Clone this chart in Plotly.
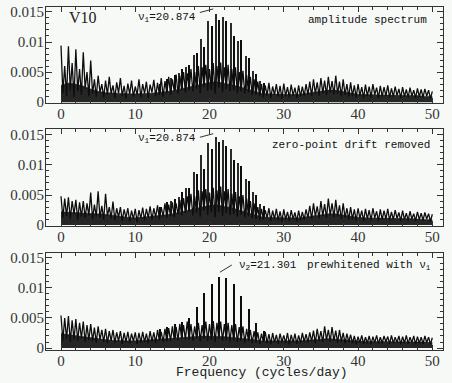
#!/usr/bin/env python3
"""
V10 amplitude spectra - three stacked panels (raw, drift removed, prewhitened)
"""

import plotly.graph_objs as go

# Frequency grid of the noise curves (cycles/day), 0.25 c/d steps, 0..50
NOISE_FREQ = [i * 0.25 for i in range(201)]
# Grid of the dense noise band level, 1 c/d steps
BAND_FREQ = list(range(51))

# Noise curves, amplitude in units of 1e-4
noise_raw = [
    # 0 - 4
    94, 15, 60, 10, 93, 20, 65, 8, 88, 18, 55, 12, 83, 22, 50, 10, 69,
    # 4.25 - 14
    14, 38, 9, 44, 16, 30, 8, 36, 12, 42, 14, 28, 7, 33, 15, 40, 10, 27, 6, 31,
    13, 36, 9, 26, 12, 38, 8, 30, 14, 34, 7, 29, 16, 37, 10, 32, 12, 40, 9, 35,
    # 14.25 - 17
    15, 42, 12, 38, 18, 46, 14, 44, 20, 50, 16, 48,
    # 17.25 - 26
    20, 55, 18, 50, 22, 60, 15, 58, 25, 62, 18, 55, 20, 65, 14, 60, 24, 66,
    16, 58, 22, 62, 18, 55, 20, 58, 15, 50, 18, 52, 14, 45, 16, 42, 12, 38,
    # 26.25 - 33
    12, 34, 10, 30, 8, 28, 11, 32, 7, 26, 12, 30, 9, 27,
    6, 31, 10, 25, 8, 29, 11, 24, 7, 28, 9, 26, 10, 30,
    # 33.25 - 39
    12, 34, 10, 38, 14, 33, 11, 40, 15, 36, 12, 42,
    16, 35, 13, 44, 14, 34, 10, 38, 12, 30, 9, 33,
    # 39.25 - 50
    10, 28, 8, 30, 11, 25, 7, 29, 10, 26, 8, 30, 12, 24, 7, 27, 9, 25, 10, 28, 8, 23,
    9, 26, 11, 22, 7, 25, 9, 21, 8, 24, 10, 20, 7, 23, 9, 21, 8, 22, 10, 20, 6, 18,
]

noise_drift = [
    # 0 - 4
    48, 12, 44, 15, 46, 10, 40, 18, 42, 9, 38, 14, 40, 12, 36, 16, 54,
    # 4.25 - 14
    10, 34, 14, 56, 12, 32, 9, 52, 15, 30, 11, 39, 8, 28, 13, 30, 7, 26, 12, 28,
    6, 24, 10, 27, 5, 25, 11, 29, 8, 27, 12, 31, 9, 28, 13, 33, 10, 30, 14, 36,
    # 14.25 - 17
    12, 34, 15, 38, 13, 36, 18, 42, 16, 45, 20, 48,
    # 17.25 - 26
    22, 52, 16, 48, 20, 58, 14, 56, 24, 60, 17, 54, 21, 62, 13, 58, 22, 64,
    15, 56, 20, 60, 17, 52, 19, 55, 14, 48, 17, 50, 13, 44, 15, 40, 11, 36,
    # 26.25 - 33
    10, 30, 8, 27, 9, 25, 12, 28, 7, 24, 10, 27, 8, 23,
    6, 26, 9, 22, 7, 25, 10, 21, 6, 24, 8, 22, 9, 26,
    # 33.25 - 39
    12, 32, 10, 36, 14, 31, 11, 40, 15, 35, 12, 44,
    16, 36, 13, 42, 14, 33, 10, 36, 12, 28, 9, 30,
    # 39.25 - 50
    10, 26, 8, 28, 11, 24, 7, 27, 10, 25, 8, 28, 12, 23, 7, 26, 9, 24, 10, 27, 8, 22,
    9, 25, 11, 21, 7, 24, 9, 20, 8, 23, 10, 19, 7, 22, 9, 20, 8, 21, 10, 19, 6, 18,
]

noise_prew = [
    # 0 - 4
    54, 12, 50, 15, 53, 10, 46, 14, 48, 12, 42, 16, 44, 10, 38, 13, 40,
    # 4.25 - 14
    12, 34, 9, 36, 14, 30, 10, 32, 8, 28, 12, 30, 9, 26, 11, 28, 7, 25, 10, 27,
    8, 24, 11, 26, 7, 25, 9, 27, 10, 24, 8, 28, 11, 26, 9, 30, 12, 27, 10, 32,
    # 14.25 - 17
    11, 33, 12, 36, 14, 35, 13, 40, 15, 38, 14, 44,
    # 17.25 - 26
    14, 40, 12, 36, 16, 42, 11, 38, 15, 44, 12, 40, 14, 45, 10, 42, 16, 44,
    12, 40, 14, 42, 11, 38, 13, 40, 10, 35, 12, 36, 9, 32, 11, 30, 8, 28,
    # 26.25 - 33
    9, 26, 7, 24, 10, 27, 8, 23, 6, 25, 9, 22, 7, 24,
    10, 21, 8, 25, 6, 22, 9, 24, 7, 21, 8, 25, 10, 23,
    # 33.25 - 39
    9, 26, 11, 29, 8, 32, 12, 28, 10, 36, 13, 30,
    11, 35, 12, 29, 9, 30, 11, 25, 8, 24, 10, 22,
    # 39.25 - 50
    8, 20, 6, 19, 9, 21, 7, 18, 8, 20, 6, 19, 9, 21, 7, 18, 8, 20, 10, 19, 7, 21,
    8, 18, 9, 20, 6, 19, 8, 21, 7, 18, 9, 20, 6, 19, 8, 18, 7, 20, 9, 18, 6, 17,
]

# Top of the solid dark noise band, per 1 c/d (1e-4)
band_raw = [28, 32, 30, 27, 22, 18, 16, 15, 15, 14, 14, 14, 15, 16, 17, 19, 22,
            25, 28, 31, 33, 34, 32, 29, 26, 22, 18, 15, 14, 13, 13, 13, 13, 15,
            17, 19, 20, 20, 18, 15, 13, 13, 12, 12, 12, 12, 11, 11, 11, 10, 10]
band_drift = [22, 22, 21, 20, 20, 19, 18, 16, 14, 13, 12, 13, 14, 15, 17, 19, 22,
              25, 28, 31, 33, 34, 32, 29, 25, 21, 17, 14, 13, 12, 12, 12, 12, 14,
              16, 18, 19, 19, 17, 14, 13, 12, 12, 12, 11, 11, 11, 11, 10, 10, 9]
band_prew = [24, 23, 21, 19, 17, 15, 14, 13, 12, 12, 12, 13, 14, 14, 15, 16, 17,
             18, 19, 20, 20, 20, 19, 18, 17, 15, 14, 12, 12, 12, 11, 11, 12, 13,
             14, 15, 16, 15, 14, 12, 11, 11, 11, 11, 11, 10, 10, 10, 10, 10, 9]

# Alias peaks of nu1 = 20.874 and nu2 = 21.301 (c/d), heights in 1e-4
nu1_alias = [14.874, 15.874, 16.874, 17.874, 18.874, 19.874, 20.874,
             21.874, 22.874, 23.874, 24.874, 25.874, 26.874]
nu2_alias = [13.301, 14.301, 15.301, 16.301, 17.301, 18.301, 19.301, 20.301,
             21.301, 22.301, 23.301, 24.301, 25.301, 26.301, 27.301]

raw_nu1 = [40, 48, 58, 78, 105, 135, 146, 141, 132, 102, 77, 52, 36]
raw_nu2 = [30, 38, 45, 55, 62, 82, 91, 126, 136, 135, 110, 104, 74, 46, 32]

drift_nu1 = [40, 46, 61, 88, 116, 136, 146, 142, 127, 103, 77, 55, 36]
drift_nu2 = [30, 39, 43, 55, 62, 85, 94, 127, 138, 132, 108, 99, 74, 50, 32]

prew_nu2 = [32, 36, 40, 43, 50, 69, 92, 107, 118, 116, 107, 87, 65, 41, 28]

SCALE = 1e-4
INK = '#0d0d0d'
BG = '#f6f9f6'
MONO = 'Liberation Mono, Courier New, monospace'
SERIF = 'Liberation Serif, Times New Roman, serif'

for arr in (noise_raw, noise_drift, noise_prew):
    assert len(arr) == len(NOISE_FREQ), len(arr)
for arr in (band_raw, band_drift, band_prew):
    assert len(arr) == len(BAND_FREQ), len(arr)


def scaled(values):
    return [v * SCALE for v in values]


def add_panel(fig, n, band, noise, peak_sets):
    """Dense noise band, jagged noise curve and alias spikes on axes pair n"""
    xa = 'x' if n == 1 else f'x{n}'
    ya = 'y' if n == 1 else f'y{n}'
    fig.add_trace(go.Scatter(
        x=BAND_FREQ, y=scaled(band), mode='lines', fill='tozeroy',
        fillcolor='#262626', line=dict(color='#262626', width=0.5),
        xaxis=xa, yaxis=ya, showlegend=False, hoverinfo='skip'
    ))
    fig.add_trace(go.Scatter(
        x=NOISE_FREQ, y=scaled(noise), mode='lines',
        line=dict(color=INK, width=1.3), xaxis=xa, yaxis=ya,
        showlegend=False, hoverinfo='skip'
    ))
    for freqs, heights, color in peak_sets:
        fig.add_trace(go.Bar(
            x=freqs, y=scaled(heights), width=0.17,
            marker=dict(color=color, line=dict(width=0)),
            xaxis=xa, yaxis=ya, showlegend=False, hoverinfo='skip'
        ))


fig = go.Figure()
add_panel(fig, 1, band_raw, noise_raw,
          [(nu1_alias, raw_nu1, '#2a2a2a'), (nu2_alias, raw_nu2, '#0d0d0d')])
add_panel(fig, 2, band_drift, noise_drift,
          [(nu1_alias, drift_nu1, '#2a2a2a'), (nu2_alias, drift_nu2, '#0d0d0d')])
add_panel(fig, 3, band_prew, noise_prew, [(nu2_alias, prew_nu2, '#0d0d0d')])

xaxis_style = dict(
    range=[-2.02, 51.44], showline=True, mirror='ticks', linecolor='#333', linewidth=1,
    ticks='inside', ticklen=5, tickcolor='#333', tickvals=[0, 10, 20, 30, 40, 50],
    minor=dict(dtick=2, ticklen=3, ticks='inside', tickcolor='#333'),
    showgrid=False, zeroline=False, ticklabelstandoff=-3,
    tickfont=dict(family=SERIF, size=15, color='#333'),
)
yaxis_style = dict(
    showline=True, mirror='ticks', linecolor='#333', linewidth=1,
    ticks='inside', ticklen=6, tickcolor='#333',
    tickvals=[0, 0.005, 0.01, 0.015], ticktext=['0', '0.005', '0.01', '0.015'],
    minor=dict(dtick=0.001, ticklen=3, ticks='inside', tickcolor='#333'),
    showgrid=False, zeroline=False, ticklabelstandoff=-2,
    tickfont=dict(family=SERIF, size=15, color='#333'),
)

fig.update_layout(
    width=452, height=383,
    margin=dict(l=46, r=9, t=4, b=33),
    paper_bgcolor=BG, plot_bgcolor=BG,
    barmode='overlay', bargap=0,
    xaxis=dict(xaxis_style, anchor='y'),
    xaxis2=dict(xaxis_style, anchor='y2'),
    xaxis3=dict(xaxis_style, anchor='y3'),
    yaxis=dict(yaxis_style, domain=[0.7197, 1.0], range=[-0.000165, 0.01582], anchor='x'),
    yaxis2=dict(yaxis_style, domain=[0.3613, 0.6445], range=[-0.000165, 0.01599], anchor='x2'),
    yaxis3=dict(yaxis_style, domain=[0.0, 0.2832], range=[-0.00033, 0.01582], anchor='x3'),
)

# Panel labels
label_font = dict(family=MONO, size=11, color='#111')
notes = [
    ('x', 'y', 3.0, 0.0140, 'V10', 'center', dict(family=SERIF, size=16, color='#222')),
    ('x', 'y', 18.4, 0.0141, 'ν<sub>1</sub>=20.874', 'right', label_font),
    ('x', 'y', 49.6, 0.0137, 'amplitude spectrum', 'right', label_font),
    ('x2', 'y2', 18.4, 0.0144, 'ν<sub>1</sub>=20.874', 'right', label_font),
    ('x2', 'y2', 50.0, 0.0134, 'zero-point drift removed', 'right', label_font),
    ('x3', 'y3', 23.7, 0.0137, 'ν<sub>2</sub>=21.301', 'left', label_font),
    ('x3', 'y3', 50.1, 0.0137, 'prewhitened with ν<sub>1</sub>', 'right', label_font),
]
for xr, yr, x, y, text, anchor, font in notes:
    fig.add_annotation(x=x, y=y, xref=xr, yref=yr, text=text, showarrow=False,
                       xanchor=anchor, yanchor='middle', font=font)

# Pointer ticks to the identified peaks
pointers = [
    ('x', 'y', 18.7, 0.0149, 20.5, 0.0155),
    ('x2', 'y2', 18.7, 0.0146, 20.5, 0.0152),
    ('x3', 'y3', 21.4, 0.0126, 23.0, 0.0138),
]
for xr, yr, x0, y0, x1, y1 in pointers:
    fig.add_shape(type='line', xref=xr, yref=yr, x0=x0, y0=y0, x1=x1, y1=y1,
                  line=dict(color='#333', width=1))

fig.add_annotation(x=27.0, y=-0.0665, xref='x3', yref='paper',
                   text='Frequency (cycles/day)', showarrow=False,
                   xanchor='center', yanchor='middle',
                   font=dict(family=MONO, size=13, color='#222'))

# page body has a default margin that would shift the figure
fig.write_html("out.html", config={'displayModeBar': False},
               post_script="document.body.style.margin = '0';")
